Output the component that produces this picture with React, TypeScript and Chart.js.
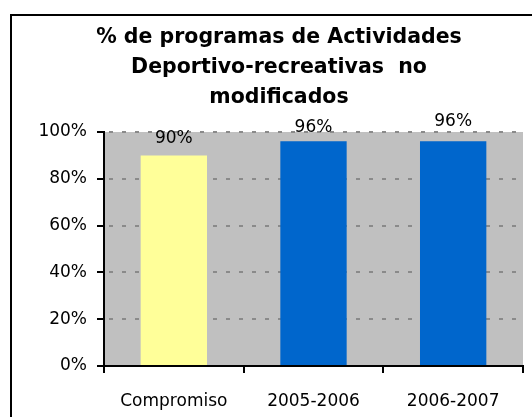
import React, { useEffect, useRef } from "react";
import { Chart, registerables } from "chart.js";

Chart.register(...registerables);

const categories = ["Compromiso", "2005-2006", "2006-2007"];
const values = [90, 96, 96];
const barColors = ["#FFFF99", "#0066CC", "#0066CC"];
const titleLines = ["% de programas de Actividades", "Deportivo-recreativas  no", "modificados"];
const yMin = 0;
const yMax = 100;
const yStep = 20;
const labelLift = [17, 14, 20];

const FONT = "'DejaVu Sans', Verdana, sans-serif";

const framePlugin = {
  id: "frame",
  beforeDraw(chart: any) {
    const { ctx, chartArea } = chart;
    ctx.save();
    ctx.fillStyle = "#ffffff";
    ctx.fillRect(0, 0, chart.width, chart.height);
    ctx.fillStyle = "#C0C0C0";
    ctx.fillRect(chartArea.left, chartArea.top, chartArea.right - chartArea.left, chartArea.bottom - chartArea.top);
    ctx.strokeStyle = "#000000";
    ctx.lineWidth = 2;
    ctx.strokeRect(11, 15, 700, 700);
    ctx.fillStyle = "#000000";
    ctx.font = `bold 20.5px ${FONT}`;
    ctx.textAlign = "center";
    ctx.textBaseline = "middle";
    titleLines.forEach((line, i) => ctx.fillText(line, 279, 38 + i * 30));
    ctx.restore();
  },
  afterDatasetsDraw(chart: any) {
    const { ctx } = chart;
    const meta = chart.getDatasetMeta(0);
    ctx.save();
    ctx.fillStyle = "#000000";
    ctx.font = `17px ${FONT}`;
    ctx.textAlign = "center";
    ctx.textBaseline = "middle";
    meta.data.forEach((bar: any, i: number) => {
      ctx.fillText(values[i] + "%", bar.x, bar.y - labelLift[i]);
    });
    ctx.restore();
  },
};

export default function App() {
  const ref = useRef<HTMLCanvasElement | null>(null);

  useEffect(() => {
    if (!ref.current) return;
    const chart = new Chart(ref.current, {
      type: "bar",
      data: {
        labels: categories,
        datasets: [
          {
            data: values,
            backgroundColor: barColors,
            borderWidth: 0,
            categoryPercentage: 1,
            barPercentage: 0.475,
          },
        ],
      },
      options: {
        animation: false,
        responsive: false,
        maintainAspectRatio: false,
        layout: { padding: { left: 0, top: 132, right: 9, bottom: 0 } },
        plugins: {
          legend: { display: false },
          title: { display: false },
          tooltip: { enabled: false },
        },
        scales: {
          x: {
            afterFit(scale: any) {
              scale.height = 51;
            },
            grid: {
              drawOnChartArea: false,
              color: "#000000",
              lineWidth: 2,
              tickLength: 7,
              offset: true,
            },
            border: { color: "#000000", width: 2 },
            ticks: {
              color: "#000000",
              font: { family: FONT, size: 17 },
              padding: 18,
              maxRotation: 0,
            },
          },
          y: {
            min: yMin,
            max: yMax,
            afterFit(scale: any) {
              scale.width = 104;
            },
            grid: {
              color: (c: any) => (c.tick && c.tick.value === 0 ? "rgba(0,0,0,0)" : "#8A8A8A"),
              lineWidth: 2,
              tickColor: "#000000",
              tickWidth: 2,
              tickLength: 7,
            },
            border: { color: "#000000", width: 2, dash: [4, 9], dashOffset: -4 },
            ticks: {
              stepSize: yStep,
              color: "#000000",
              font: { family: FONT, size: 17 },
              padding: 10,
              callback: (v: any) => v + "%",
            },
          },
        },
      },
      plugins: [framePlugin],
    });
    return () => chart.destroy();
  }, []);

  return (
    <div style={{ position: "absolute", left: 0, top: 0, width: 532, height: 417 }}>
      <canvas ref={ref} width={532} height={417} style={{ width: 532, height: 417 }} />
    </div>
  );
}
